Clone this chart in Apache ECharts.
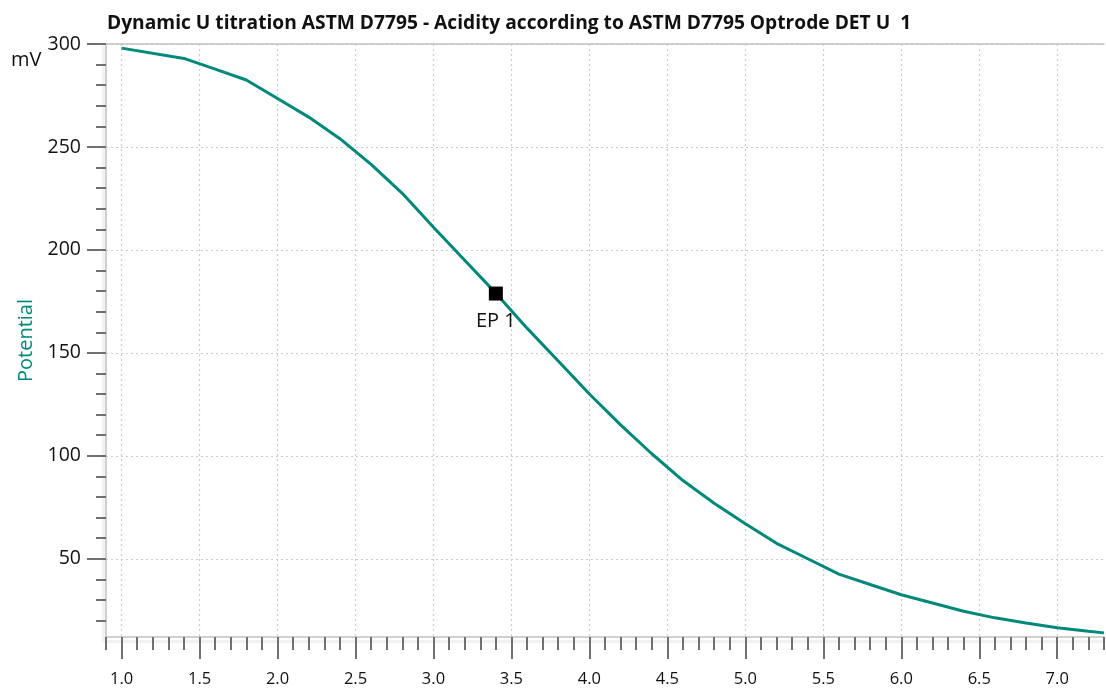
<!DOCTYPE html>
<html>
<head>
<meta charset="utf-8">
<script src="https://cdn.jsdelivr.net/npm/echarts@6/dist/echarts.min.js"></script>
<style>
html,body{margin:0;padding:0;background:#fff;}
#chart{width:1106px;height:688px;}
</style>
</head>
<body>
<div id="chart"></div>
<script>
// Titration curve: volume (x) vs potential in mV (y)
var volume = [1.0, 1.4, 1.6, 1.8, 2.0, 2.2, 2.4, 2.6, 2.8, 3.0, 3.2, 3.4, 3.6, 3.8, 4.0, 4.2, 4.4, 4.6, 4.8, 5.0, 5.2, 5.4, 5.6, 5.8, 6.0, 6.2, 6.4, 6.6, 6.8, 7.0, 7.2, 7.3];
var potential = [298, 293, 287.8, 282.5, 273.5, 264.5, 254, 241.5, 227.5, 211, 195, 179, 162, 146, 130, 115, 101, 88, 77, 67, 57.5, 50, 42.5, 37.5, 32.5, 28.5, 24.5, 21.3, 18.8, 16.5, 14.8, 14.0];
// End point
var epVolume = [3.4];
var epPotential = [178.8];
var epLabels = ['EP 1'];
// Tick labels
var xTickLabels = [1.0, 1.5, 2.0, 2.5, 3.0, 3.5, 4.0, 4.5, 5.0, 5.5, 6.0, 6.5, 7.0];
var yTickLabels = [50, 100, 150, 200, 250, 300];
var xMinorTicks = [0.9, 1.1, 1.2, 1.3, 1.4, 1.6, 1.7, 1.8, 1.9, 2.1, 2.2, 2.3, 2.4, 2.6, 2.7, 2.8, 2.9, 3.1, 3.2, 3.3, 3.4, 3.6, 3.7, 3.8, 3.9, 4.1, 4.2, 4.3, 4.4, 4.6, 4.7, 4.8, 4.9, 5.1, 5.2, 5.3, 5.4, 5.6, 5.7, 5.8, 5.9, 6.1, 6.2, 6.3, 6.4, 6.6, 6.7, 6.8, 6.9, 7.1, 7.2, 7.3];
var yMinorTicks = [20, 30, 40, 60, 70, 80, 90, 110, 120, 130, 140, 160, 170, 180, 190, 210, 220, 230, 240, 260, 270, 280, 290];

var titleText = 'Dynamic U titration ASTM D7795 - Acidity according to ASTM D7795 Optrode DET U  1';
var FONT = '"Open Sans", "Noto Sans", sans-serif';
var TEAL = '#00897b';
var AXIS_LINE = '#c0c0c0';
var TICK = '#707070';

var epData = epVolume.map(function (v, i) { return [v, epPotential[i], epLabels[i]]; });
var lineData = volume.map(function (v, i) { return [v, potential[i]]; });

var chart = echarts.init(document.getElementById('chart'), null, {renderer: 'canvas'});
chart.setOption({
  animation: false,
  backgroundColor: '#ffffff',
  title: {
    text: titleText,
    left: 102,
    top: 9,
    textStyle: {fontFamily: FONT, fontSize: 19.2, fontWeight: 'bold', color: '#111'}
  },
  grid: {left: 106, right: 2, top: 44, bottom: 49, containLabel: false},
  graphic: [
    {type: 'text', left: 11, top: 50, style: {text: 'mV', font: '20px ' + FONT, fill: '#111'}},
    {type: 'rect', left: 102, top: 44, shape: {width: 4, height: 599}, style: {fill: '#f2f2f2'}, z: -1},
    {type: 'rect', left: 102, top: 640, shape: {width: 1004, height: 3}, style: {fill: '#f2f2f2'}, z: -1}
  ],
  xAxis: [
    {
      type: 'value', min: 0.9, max: 7.3, position: 'bottom',
      axisLine: {show: true, lineStyle: {color: AXIS_LINE, width: 1.5}},
      axisTick: {show: true, customValues: xTickLabels, length: 22, lineStyle: {color: TICK, width: 2}},
      axisLabel: {customValues: xTickLabels, margin: 34, fontFamily: FONT, fontSize: 16.5, color: '#111',
        formatter: function (v) { return v.toFixed(1); }},
      splitLine: {show: true, lineStyle: {color: '#cccccc', width: 1.2, type: [2, 3]}},
      minorTick: {show: false}
    },
    {
      type: 'value', min: 0.9, max: 7.3, position: 'bottom',
      axisLine: {show: false},
      axisTick: {show: true, customValues: xMinorTicks, length: 13, lineStyle: {color: TICK, width: 2}},
      axisLabel: {show: false},
      splitLine: {show: false}
    },
    {
      type: 'value', min: 0.9, max: 7.3, position: 'top',
      axisLine: {show: true, lineStyle: {color: AXIS_LINE, width: 1.5}},
      axisTick: {show: false}, axisLabel: {show: false}, splitLine: {show: false}
    }
  ],
  yAxis: [
    {
      type: 'value', min: 12, max: 300, position: 'left',
      name: 'Potential', nameLocation: 'middle', nameGap: 62, nameRotate: 90,
      nameTextStyle: {color: TEAL, fontFamily: FONT, fontSize: 20},
      axisLine: {show: true, lineStyle: {color: AXIS_LINE, width: 1.5}},
      axisTick: {show: true, customValues: yTickLabels, length: 19, lineStyle: {color: TICK, width: 2}},
      axisLabel: {customValues: yTickLabels, margin: 25, fontFamily: FONT, fontSize: 19.5, color: '#111'},
      splitLine: {show: true, lineStyle: {color: '#cccccc', width: 1.2, type: [2, 3]}}
    },
    {
      type: 'value', min: 12, max: 300, position: 'left',
      axisLine: {show: false},
      axisTick: {show: true, customValues: yMinorTicks, length: 10, lineStyle: {color: TICK, width: 2}},
      axisLabel: {show: false},
      splitLine: {show: false}
    }
  ],
  series: [
    {
      type: 'line', xAxisIndex: 0, yAxisIndex: 0,
      data: lineData, showSymbol: false, smooth: false,
      lineStyle: {color: TEAL, width: 3},
      z: 2
    },
    {
      type: 'scatter', xAxisIndex: 0, yAxisIndex: 0,
      data: epData, symbol: 'rect', symbolSize: 14,
      itemStyle: {color: '#000', opacity: 1},
      label: {show: true, position: 'bottom', distance: 11, formatter: function (p) { return p.data[2]; },
        fontFamily: FONT, fontSize: 20, color: '#111'},
      z: 3
    }
  ]
});
</script>
</body>
</html>
